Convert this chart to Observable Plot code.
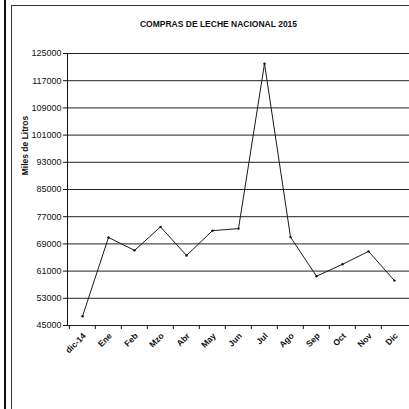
<!DOCTYPE html>
<html>
<head>
<meta charset="utf-8">
<script src="https://cdn.jsdelivr.net/npm/d3@7"></script>
<script src="https://cdn.jsdelivr.net/npm/@observablehq/plot@0.6"></script>
<style>
  html, body { margin: 0; padding: 0; background: #fff; }
  #wrap { position: relative; width: 409px; height: 409px; overflow: hidden; font-family: "Liberation Sans", Arial, sans-serif; }
  .ln { position: absolute; background: #111; }
</style>
</head>
<body>
<div id="wrap">
  <div class="ln" style="left:4px; top:0; width:2px; height:409px;"></div>
  <div class="ln" style="left:11px; top:5px; width:1px; height:404px; background:#333;"></div>
  <div class="ln" style="left:11px; top:5px; width:398px; height:1px; background:#333;"></div>
</div>
<script>
const title = "COMPRAS DE LECHE NACIONAL 2015";
const yLabel = "Miles de Litros";
const months = ["dic-14", "Ene", "Feb", "Mzo", "Abr", "May", "Jun", "Jul", "Ago", "Sep", "Oct", "Nov", "Dic"];
const values = [47700, 70900, 67100, 74000, 65600, 72900, 73500, 122000, 71000, 59500, 63000, 66800, 58200];
const yTicks = [45000, 53000, 61000, 69000, 77000, 85000, 93000, 101000, 109000, 117000, 125000];

const data = months.map((m, i) => ({month: m, value: values[i]}));

const W = 409, H = 409;
const mL = 67, mR = 0, mT = 53, mB = 84;
const step = (W - mL - mR) / months.length;

const chart = Plot.plot({
  width: W,
  height: H,
  marginLeft: mL,
  marginRight: mR,
  marginTop: mT,
  marginBottom: mB,
  style: {fontFamily: "'Liberation Sans', Arial, sans-serif", background: "transparent", color: "#111"},
  x: {type: "point", domain: months, padding: 0.5, label: null},
  y: {domain: [45000, 125000], label: null},
  marks: [
    Plot.gridY(yTicks, {stroke: "#222", strokeOpacity: 1, strokeWidth: 1}),
    Plot.frame({anchor: "left", stroke: "#111"}),
    Plot.axisY({ticks: yTicks, tickSize: 4, tickPadding: 2, tickFormat: d3.format("d"), fontSize: 9, stroke: "#111", fill: "#111"}),
    Plot.axisX({tickSize: 4, tickFormat: () => "", dx: -step / 2, stroke: "#111"}),
    Plot.axisX({tickSize: 0, tickPadding: 9, tickRotate: -45, fontSize: 8.5, fontWeight: "bold", fill: "#111", dx: 2}),
    Plot.line(data, {x: "month", y: "value", stroke: "#1a1a1a", strokeWidth: 1}),
    Plot.dot(data, {x: "month", y: "value", r: 1.2, fill: "#111", stroke: null}),
    Plot.text([title], {frameAnchor: "top-left", dx: 151, dy: -29, text: d => d, fontSize: 8.5, fontWeight: "bold", textAnchor: "middle", lineAnchor: "middle", fill: "#111"}),
    Plot.text([yLabel], {frameAnchor: "left", dx: -42, dy: -44, rotate: -90, text: d => d, fontSize: 8.5, fontWeight: "bold", textAnchor: "middle", lineAnchor: "middle", fill: "#111"})
  ]
});
chart.style.position = "absolute";
chart.style.left = "0";
chart.style.top = "0";
document.getElementById("wrap").appendChild(chart);
</script>
</body>
</html>
